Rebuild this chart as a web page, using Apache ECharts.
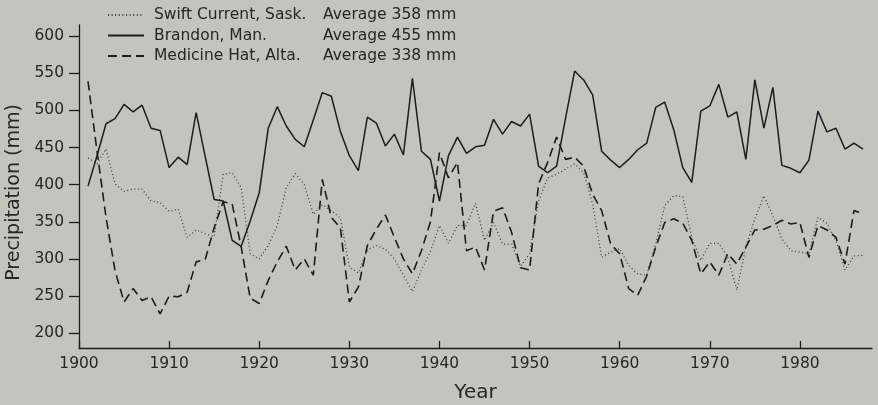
<!DOCTYPE html>
<html lang="en">

<head>
    <meta charset="UTF-8">
    <title>precipitation</title>
    <script type="text/javascript" src="https://cdn.jsdelivr.net/npm/echarts@6/dist/echarts.min.js"></script>
</head>

<body style="margin: 0; background: #c3c5bd;">
    <div id="main" style="width: 878px; height: 405px;"></div>
    <script>
        // years 1901..1987
        var years = [];
        for (var y = 1901; y <= 1987; y++) years.push(y);

        var stations = ['Swift Current, Sask.', 'Brandon, Man.', 'Medicine Hat, Alta.'];
        var averages = [358, 455, 338];

        var swiftCurrent = [
            436, 428, 448, 401, 391, 394, 394, 378, 376, 364,
            367, 329, 339, 334, 330, 414, 416, 396, 307, 300,
            318, 345, 396, 415, 400, 360, 373, 365, 355, 289,
            281, 312, 318, 313, 300, 278, 256, 285, 310, 345,
            321, 345, 345, 375, 325, 349, 320, 320, 290, 307,
            378, 409, 414, 421, 428, 416, 374, 302, 309, 314,
            291, 280, 278, 320, 372, 385, 384, 329, 298, 321,
            321, 302, 258, 316, 354, 385, 358, 327, 311, 309,
            307, 356, 348, 325, 285, 304, 305
        ];
        var brandon = [
            398, 439, 482, 489, 508, 498, 507, 476, 473, 423,
            437, 427, 497, 438, 380, 378, 325, 317, 351, 389,
            476, 505, 479, 461, 451, 487, 524, 519, 472, 439,
            419, 491, 483, 452, 468, 440, 543, 445, 434, 378,
            439, 464, 442, 451, 453, 488, 468, 485, 479, 495,
            425, 416, 425, 490, 553, 541, 521, 445, 433, 423,
            434, 447, 456, 504, 511, 474, 423, 403, 499, 506,
            535, 491, 498, 434, 541, 476, 531, 426, 422, 416,
            433, 499, 471, 476, 448, 456, 448
        ];
        var medicineHat = [
            539, 445, 356, 284, 242, 260, 244, 249, 226, 250,
            249, 255, 296, 299, 342, 377, 374, 316, 247, 240,
            271, 296, 317, 285, 300, 278, 407, 356, 342, 242,
            262, 318, 340, 359, 329, 300, 280, 311, 350, 443,
            409, 430, 311, 316, 285, 364, 369, 336, 288, 285,
            401, 430, 464, 434, 437, 425, 387, 365, 320, 307,
            260, 251, 277, 316, 349, 354, 348, 325, 280, 296,
            278, 307, 293, 316, 339, 340, 345, 352, 347, 349,
            302, 345, 339, 329, 293, 365, 361
        ];

        var yTicks = [200, 250, 300, 350, 400, 450, 500, 550, 600];
        var xTicks = [1900, 1910, 1920, 1930, 1940, 1950, 1960, 1970, 1980];

        function pairs(vals) {
            return vals.map(function (v, i) { return [years[i], v]; });
        }

        var font = '"DejaVu Sans", Arial, sans-serif';
        var ink = '#1c1c1c';
        var txt = '#262626';

        var myChart = echarts.init(document.getElementById('main'));
        myChart.setOption({
            backgroundColor: '#c3c5bd',
            animation: false,
            grid: { left: 79, top: 25, right: 6, bottom: 57, outerBoundsMode: 'none', containLabel: false },
            legend: {
                orient: 'vertical',
                left: 107,
                top: 7,
                padding: 0,
                itemWidth: 36,
                itemHeight: 14,
                itemGap: 4.5,
                data: stations,
                itemStyle: { opacity: 0 },
                formatter: function (name) {
                    var i = stations.indexOf(name);
                    return '{n|' + name + '}{a|Average ' + averages[i] + ' mm}';
                },
                textStyle: {
                    fontFamily: font,
                    color: txt,
                    rich: {
                        n: { width: 169, fontSize: 15.5, fontFamily: font, color: txt, padding: [0, 0, 0, 5], lineHeight: 17 },
                        a: { fontSize: 15.5, fontFamily: font, color: txt, lineHeight: 17 }
                    }
                }
            },
            xAxis: {
                type: 'value',
                min: 1900,
                max: 1988,
                interval: 10,
                name: 'Year',
                nameLocation: 'middle',
                nameGap: 35,
                nameTextStyle: { fontFamily: font, fontSize: 20, color: txt },
                splitLine: { show: false },
                axisLine: { show: true, lineStyle: { color: ink, width: 1.3 } },
                axisTick: { show: true, inside: true, length: 7, customValues: xTicks, lineStyle: { color: ink, width: 1.3 } },
                axisLabel: {
                    customValues: xTicks, fontFamily: font, fontSize: 15.5, color: txt, margin: 8,
                    formatter: function (v) { return String(v); }
                }
            },
            yAxis: {
                type: 'value',
                min: 180,
                max: 615,
                name: 'Precipitation (mm)',
                nameLocation: 'middle',
                nameGap: 51,
                nameTextStyle: { fontFamily: font, fontSize: 19, color: txt, padding: [0, 12, 0, 0] },
                splitLine: { show: false },
                axisLine: { show: true, lineStyle: { color: ink, width: 1.3 } },
                axisTick: { show: true, length: 10, customValues: yTicks, lineStyle: { color: ink, width: 1.3 } },
                axisLabel: {
                    customValues: yTicks, fontFamily: font, fontSize: 15.5, color: txt, margin: 15,
                    formatter: function (v) { return String(v); }
                }
            },
            series: [
                {
                    name: stations[0],
                    type: 'line',
                    symbol: 'none',
                    data: pairs(swiftCurrent),
                    lineStyle: { color: '#3a3a3a', width: 1.3, type: [1, 2.6] },
                    itemStyle: { color: '#3a3a3a' }
                },
                {
                    name: stations[1],
                    type: 'line',
                    symbol: 'none',
                    data: pairs(brandon),
                    lineStyle: { color: ink, width: 1.5 },
                    itemStyle: { color: ink }
                },
                {
                    name: stations[2],
                    type: 'line',
                    symbol: 'none',
                    data: pairs(medicineHat),
                    lineStyle: { color: ink, width: 1.6, type: [9, 5] },
                    itemStyle: { color: ink }
                }
            ]
        });
    </script>
</body>

</html>
